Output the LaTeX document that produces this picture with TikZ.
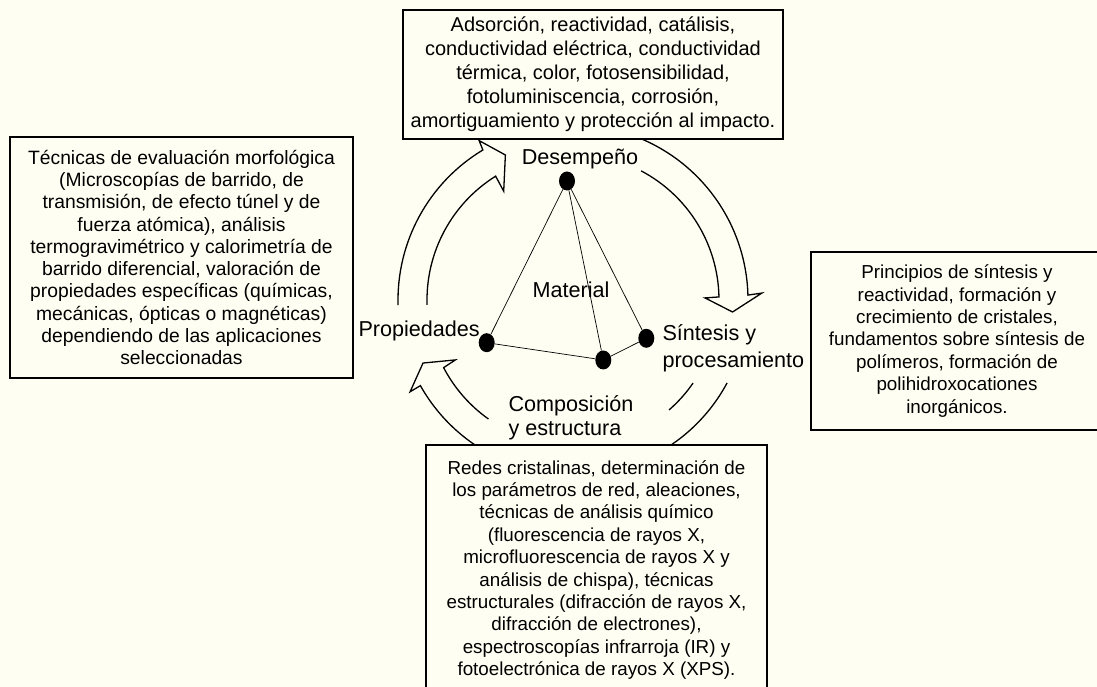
\documentclass[tikz,border=0pt]{standalone}
\usepackage{fontspec}
\setmainfont{Liberation Sans}
\usetikzlibrary{shapes.geometric}
\definecolor{bg}{RGB}{255,254,242}
\tikzset{
  boxstyle/.style={draw=black, line width=1.1pt, fill=bg, align=center, inner sep=0pt,
    font=\fontsize{18.8}{22.4}\selectfont},
  arrowline/.style={draw=black, line width=1.3pt, line join=miter},
  dotstyle/.style={ellipse, fill=black, minimum width=16pt, minimum height=19pt, inner sep=0pt},
  lbl/.style={inner sep=0pt, font=\fontsize{21.6}{26}\selectfont},
  edge/.style={draw=black, line width=0.7pt}
}
\begin{document}
\begin{tikzpicture}[x=1pt,y=1pt]
\path[use as bounding box, fill=bg] (0,0) rectangle (1097,687);
\clip (0,0) rectangle (1097,687);

% ring of block arrows
\begin{scope}[shift={(573,387)}]
  \draw[arrowline] (181.7:175) arc[start angle=181.7, end angle=121, radius=175pt]
    -- (120.5:185) -- (115:160) -- (122.5:129) -- (122:146)
    arc[start angle=122, end angle=181.9, radius=146pt];
  \draw[arrowline] (78:175) arc[start angle=78, end angle=1.6, radius=175pt]
    -- (2.1:189) -- (-4.3:160) -- (0.9:132) -- (1.2:146)
    arc[start angle=1.2, end angle=62.2, radius=146pt];
  \draw[arrowline] (-28.3:175) arc[start angle=-28.3, end angle=-150.7, radius=175pt]
    -- (-150.6:187) -- (-157.2:162.7) -- (-153:132) -- (-152.4:146)
    arc[start angle=-152.4, end angle=-125.4, radius=146pt];
  \draw[arrowline] (-48.9:146) arc[start angle=-48.9, end angle=-34.7, radius=146pt];
\end{scope}

% boxes
\node[boxstyle, minimum width=380pt, minimum height=129pt, font=\fontsize{20}{24}\selectfont] (top) at (593,612.5)
  {Adsorción, reactividad, catálisis,\\conductividad eléctrica, conductividad\\térmica, color, fotosensibilidad,\\fotoluminiscencia, corrosión,\\amortiguamiento y protección al impacto.};
\node[boxstyle, minimum width=343pt, minimum height=241pt, font=\fontsize{19.3}{22.3}\selectfont] (left) at (181.5,429.5)
  {Técnicas de evaluación morfológica\\(Microscopías de barrido, de\\transmisión, de efecto túnel y de\\fuerza atómica), análisis\\termogravimétrico y calorimetría de\\barrido diferencial, valoración de\\propiedades específicas (químicas,\\mecánicas, ópticas o magnéticas)\\dependiendo de las aplicaciones\\seleccionadas};
\node[boxstyle, minimum width=292pt, minimum height=178pt] (right) at (957,346)
  {Principios de síntesis y\\reactividad, formación y\\crecimiento de cristales,\\fundamentos sobre síntesis de\\polímeros, formación de\\polihidroxocationes\\inorgánicos.};
\node[boxstyle, minimum width=341pt, minimum height=250pt] (bottom) at (596.5,117)
  {Redes cristalinas, determinación de\\los parámetros de red, aleaciones,\\técnicas de análisis químico\\(fluorescencia de rayos X,\\microfluorescencia de rayos X y\\análisis de chispa), técnicas\\estructurales (difracción de rayos X,\\difracción de electrones),\\espectroscopías infrarroja (IR) y\\fotoelectrónica de rayos X (XPS).};

% tetrahedron
\node[dotstyle] (D) at (567,506) {};
\node[dotstyle] (P) at (486.7,344.3) {};
\node[dotstyle] (C) at (603.3,327) {};
\node[dotstyle] (S) at (646.3,348.7) {};
\draw[edge] (D) -- (P);
\draw[edge] (D) -- (C);
\draw[edge] (D) -- (S);
\draw[edge] (P) -- (C);
\draw[edge] (C) -- (S);

% labels
\node[lbl, anchor=base] (ldes) at (580,522) {Desempeño};
\node[lbl, anchor=base] (lmat) at (571,389.3) {Material};
\node[lbl, anchor=base east] (lpro) at (480,350.3) {Propiedades};
\node[lbl, anchor=base west, align=left, font=\fontsize{21.6}{26.5}\selectfont] (lsin) at (662.3,319.7) {Síntesis y\\procesamiento};
\node[lbl, anchor=base west, align=left, font=\fontsize{21.6}{24.5}\selectfont] (lcom) at (508.3,251) {Composición\\y estructura};
\end{tikzpicture}
\end{document}
